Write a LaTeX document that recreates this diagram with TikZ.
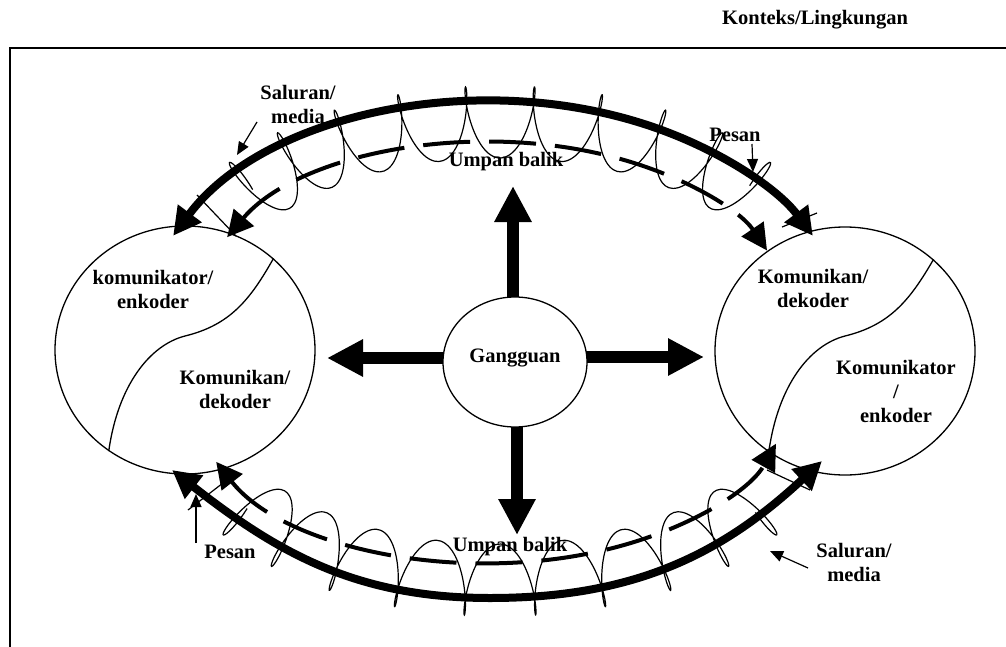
\documentclass[tikz,border=0pt]{standalone}
\usepackage{fontspec}
\setmainfont{Liberation Serif}
\usetikzlibrary{arrows.meta,shapes.geometric,backgrounds}
\begin{document}
\begin{tikzpicture}[x=1pt,y=1pt,
  declare function={
    tA(\s)=149-118*\s;
    nA(\t)=sqrt((3*sin(\t))^2+(1.57*cos(\t))^2);
    tB(\s)=209+122*\s;
    nB(\t)=sqrt((3*sin(\t))^2+(1.56*cos(\t))^2);
  },
  lbl/.style={font=\fontsize{20.5}{24}\selectfont\bfseries, inner sep=0pt, align=center},
  person/.style={draw, ellipse, line width=1.3pt, minimum width=260pt, minimum height=248pt, inner sep=0pt},
  divider/.style={line width=1.3pt},
  msg/.style={line width=8pt, {Triangle[length=28pt,width=28pt]}-{Triangle[length=28pt,width=28pt]}},
  fb/.style={line width=4pt, dash pattern=on 47pt off 19pt, {Triangle[length=26pt,width=26pt]}-{Triangle[length=26pt,width=26pt]}},
  wave/.style={line width=1.2pt},
  pointer/.style={line width=1.2pt, -{Triangle[length=13pt,width=11pt]}},
  bigarrow/.style={line width=12pt, -{Triangle[length=36pt,width=35pt]}},
  frameline/.style={line width=2.5pt}
]
\useasboundingbox (0,0) rectangle (1006,-647);

% frame
\coordinate (fb) at (10,-647);
\coordinate (ftl) at (10,-48);
\coordinate (ftr) at (1006,-48);
\draw[frameline] (fb) -- (ftl) -- (ftr);
\node[lbl, anchor=base west] (ktx) at (722,-25) {Konteks/Lingkungan};

% persons
\node[person] (L) at (185,-350) {};
\node[person] (R) at (845,-351) {};
\draw[divider] (L.46) .. controls (250,-300) and (230,-325) .. (185,-336)
               .. controls (150,-345) and (118,-385) .. (L.233);
\draw[divider] (R.46) .. controls (910,-300) and (890,-325) .. (845,-336)
               .. controls (810,-345) and (778,-385) .. (R.233);
\node[lbl] (kenc) at (153,-289) {komunikator/\\enkoder};
\node[lbl] (kdec) at (235,-389) {Komunikan/\\dekoder};
\node[lbl] (rdec) at (813,-288) {Komunikan/\\dekoder};
\node[lbl] (renc) at (896,-391) {Komunikator\\/\\enkoder};

% noise
\node[draw, ellipse, line width=1.3pt, fill=white, minimum width=144pt, minimum height=130pt,
      inner sep=0pt, font=\fontsize{20.5}{24}\selectfont\bfseries, text depth=13pt] (g) at (515,-362) {Gangguan};
\coordinate (gu) at (513,-186);
\coordinate (gl) at (327,-358);
\coordinate (gr) at (704,-357);
\coordinate (gd) at (517,-535);
\begin{scope}[on background layer]
\draw[bigarrow] (gu |- g.center) -- (gu);
\draw[bigarrow] (g.center |- gl) -- (gl);
\draw[bigarrow] (g.center |- gr) -- (gr);
\draw[bigarrow] (gd |- g.center) -- (gd);
\end{scope}

% top arcs
\coordinate (mT1) at ({493+360*cos(152.7)},{-350+249*sin(152.7)});
\coordinate (fT1) at ({492+295*cos(153.9)},{-312+170*sin(153.9)});
\draw[msg] (mT1) arc[start angle=152.7, end angle=27.3, x radius=360, y radius=249];
\draw[fb] (fT1) arc[start angle=153.9, end angle=21.2, x radius=295, y radius=170];
\draw[wave] plot[smooth, samples=320, domain=0:1, variable=\s]
  ({500+300*cos(tA(\s)) + (36*sin(3420*\s)*1.57*cos(tA(\s)) + 13*cos(3420*\s)*3*sin(tA(\s)))/nA(tA(\s))},
   {-279+157*sin(tA(\s)) + (36*sin(3420*\s)*3*sin(tA(\s)) - 13*cos(3420*\s)*1.57*cos(tA(\s)))/nA(tA(\s))});
% short channel strokes near the arrowheads
\coordinate (w1a) at (197,-195); \coordinate (w1b) at (236,-236);
\coordinate (w2a) at (817,-213); \coordinate (w2b) at (782,-227);
\draw[wave] (w1a) -- (w1b);
\draw[wave] (w2a) -- (w2b);

% bottom arcs
\coordinate (mB1) at (172,-470);
\coordinate (mBm) at (490,-598);
\coordinate (mB2) at (822,-461);
\coordinate (fB1) at ({490+300*cos(204.1)},{-392+171*sin(204.1)});
\draw[msg] (mB1) to[out=-38,in=180] (mBm) to[out=0,in=-137] (mB2);
\draw[fb] (fB1) arc[start angle=204.1, end angle=342.4, x radius=300, y radius=171];
\draw[wave] plot[smooth, samples=320, domain=0:1, variable=\s]
  ({500+300*cos(tB(\s)) + (36*sin(3420*\s)*1.56*cos(tB(\s)) - 13*cos(3420*\s)*3*sin(tB(\s)))/nB(tB(\s))},
   {-424+156*sin(tB(\s)) + (36*sin(3420*\s)*3*sin(tB(\s)) + 13*cos(3420*\s)*1.56*cos(tB(\s)))/nB(tB(\s))});
\coordinate (w3a) at (188,-510); \coordinate (w3b) at (223,-483);
\coordinate (w4a) at (810,-490); \coordinate (w4b) at (767,-470);
\draw[wave] (w3a) -- (w3b);
\draw[wave] (w4a) -- (w4b);

% labels on arcs
\node[lbl] (sm1) at (298,-104) {Saluran/\\media};
\node[lbl, anchor=base] (ub1) at (506,-167) {Umpan balik};
\node[lbl, anchor=base] (ps1) at (735,-141.7) {Pesan};
\node[lbl, anchor=base] (ps2) at (230,-558) {Pesan};
\node[lbl, anchor=base] (ub2) at (510,-551.7) {Umpan balik};
\node[lbl] (sm2) at (854,-562) {Saluran/\\media};

% pointers
\coordinate (p1s) at (257,-122); \coordinate (p1e) at (237,-155);
\coordinate (p2s) at (752,-144); \coordinate (p2e) at (753,-172);
\coordinate (p3s) at (196,-543); \coordinate (p3e) at (196,-494);
\coordinate (p4s) at (808,-568); \coordinate (p4e) at (770,-551);
\draw[pointer] (p1s) -- (p1e);
\draw[pointer] (p2s) -- (p2e);
\draw[pointer] (p3s) -- (p3e);
\draw[pointer] (p4s) -- (p4e);
\end{tikzpicture}
\end{document}
